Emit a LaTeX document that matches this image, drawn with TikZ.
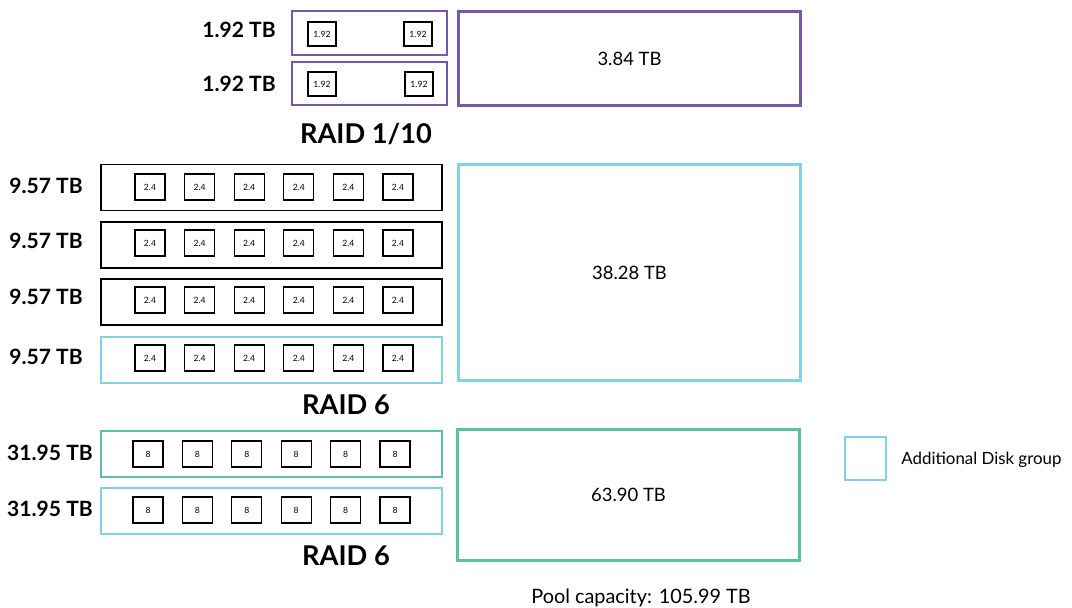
\documentclass[tikz,border=0pt]{standalone}
\usepackage{fontspec}
\setmainfont{Lato}
\definecolor{raidpurple}{HTML}{7758A8}
\definecolor{addblue}{HTML}{80D2E6}
\definecolor{raidgreen}{HTML}{5AC2A0}
\tikzset{
  group/.style={draw,line width=1.1pt,minimum width=6.82cm,minimum height=0.92cm,inner sep=0},
  pool/.style={draw,line width=1.7pt,minimum width=6.86cm,inner sep=0},
  disk/.style={draw,line width=0.7pt,minimum width=0.6cm,minimum height=0.52cm,inner sep=0,font=\fontsize{4.9}{5}\selectfont},
  size/.style={font=\bfseries\fontsize{12}{14}\selectfont},
  raid/.style={font=\bfseries\fontsize{15.5}{18}\selectfont},
  note/.style={font=\fontsize{10.5}{12}\selectfont}
}
\begin{document}
\begin{tikzpicture}[x=0.02cm, y=-0.02cm]
  \useasboundingbox (0,0) rectangle (1072,608);
  % RAID 1/10
  \node [group,raidpurple,minimum width=3.1cm,minimum height=0.88cm] (m1) at (369.5,33) {};
  \node [group,raidpurple,minimum width=3.1cm,minimum height=0.86cm] (m2) at (369.5,83.5) {};
  \node [disk,minimum width=0.56cm,minimum height=0.48cm] (m1a) at (322,34) {1.92};
  \node [disk,minimum width=0.56cm,minimum height=0.48cm] (m1b) at (418,34) {1.92};
  \node [disk,minimum width=0.56cm,minimum height=0.48cm] (m2a) at (322,84) {1.92};
  \node [disk,minimum width=0.56cm,minimum height=0.48cm] (m2b) at (419,84) {1.92};
  \node [size] (lm1) at (239,30) {1.92 TB};
  \node [size] (lm2) at (239,84) {1.92 TB};
  \node [raid] (r1) at (366,134) {RAID 1/10};
  \node [pool,raidpurple,minimum height=1.9cm] (p1) at (629.5,58.5) {};
  \node [note] (tp1) at (p1) {3.84 TB};
  % RAID 6 with 2.4 TB disks
  \node [group] (a1) at (271.5,187.5) {};
  \node [group] (a2) at (271.5,245) {};
  \node [group] (a3) at (271.5,302) {};
  \node [group,addblue] (a4) at (271.5,360) {};
  \foreach \r/\y in {1/187,2/243,3/300,4/358}
    \foreach \i in {0,...,5}
      \node [disk] (a\r d\i) at (150+49.6*\i,\y) {2.4};
  \node [size] (la1) at (46,186) {9.57 TB};
  \node [size] (la2) at (46,241) {9.57 TB};
  \node [size] (la3) at (46,297) {9.57 TB};
  \node [size] (la4) at (46,357) {9.57 TB};
  \node [raid] (r2) at (346,405) {RAID 6};
  \node [pool,addblue,minimum height=4.34cm] (p2) at (629.5,272.5) {};
  \node [note] (tp2) at (p2) {38.28 TB};
  % RAID 6 with 8 TB disks
  \node [group,raidgreen] (b1) at (271.5,454) {};
  \node [group,addblue] (b2) at (271.5,511) {};
  \foreach \r/\y in {1/454,2/510}
    \foreach \i in {0,...,5}
      \node [disk] (b\r d\i) at (148+49.4*\i,\y) {8};
  \node [size] (lb1) at (50,453) {31.95 TB};
  \node [size] (lb2) at (50,509) {31.95 TB};
  \node [raid] (r3) at (346,556) {RAID 6};
  \node [pool,raidgreen,minimum height=2.64cm] (p3) at (628.5,495) {};
  \node [note] (tp3) at (p3) {63.90 TB};
  % legend and total
  \node [draw,addblue,line width=1.3pt,minimum width=0.82cm,minimum height=0.86cm,inner sep=0] (key) at (865.5,458.5) {};
  \node [anchor=west,inner sep=0,font=\fontsize{9.6}{11}\selectfont] (keytext) at (901,460) {Additional Disk group};
  \node [note,font=\fontsize{11.3}{13}\selectfont] (total) at (641,598) {Pool capacity: 105.99 TB};
\end{tikzpicture}
\end{document}
